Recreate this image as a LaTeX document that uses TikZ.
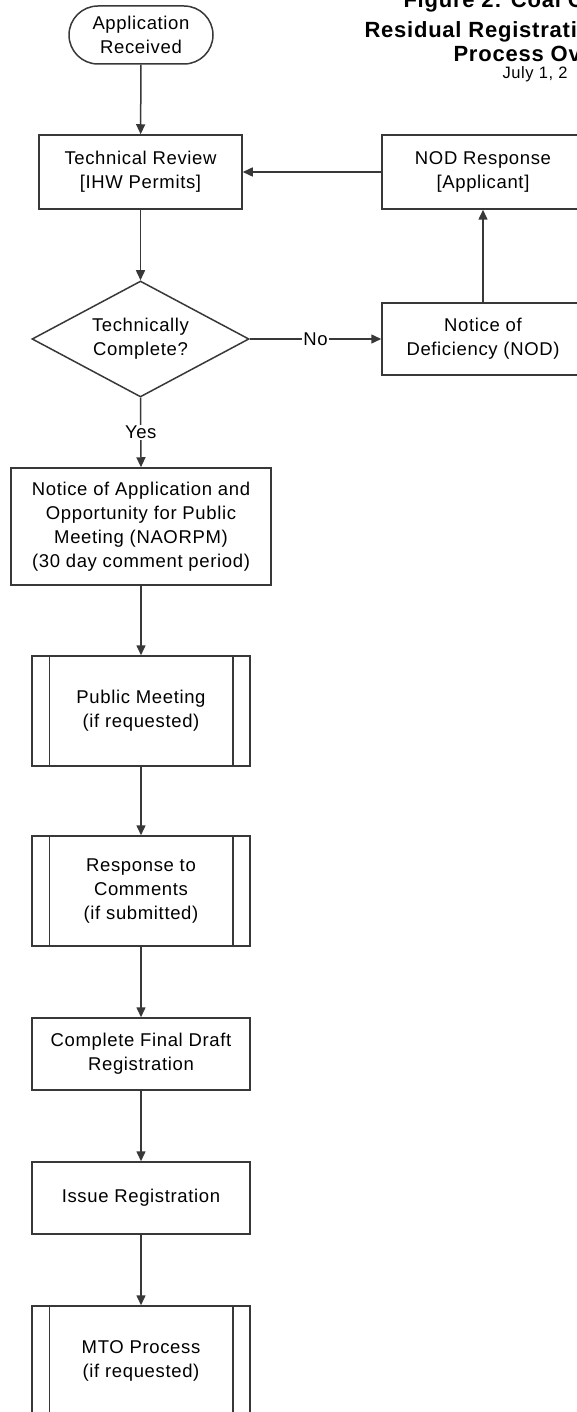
\documentclass[tikz,border=0pt]{standalone}
\usepackage{fontspec}
\setmainfont{Liberation Sans}[LetterSpace=3.5]
\usetikzlibrary{shapes.geometric,arrows.meta}
\begin{document}
\begin{tikzpicture}[x=1pt,y=-1pt,
  every node/.style={font=\fontsize{18.5}{24}\selectfont, align=center, text=black},
  box/.style={draw=black!78, line width=1.5pt, fill=white, inner sep=0pt},
  term/.style={box, rounded corners=29pt, minimum width=144pt, minimum height=58pt},
  dec/.style={box, diamond, shape aspect=1.87, minimum width=217pt, minimum height=116pt},
  subproc/.style={box, minimum width=218pt, minimum height=110pt},
  edge/.style={draw=black!78, line width=1.5pt},
  arr/.style={edge, -{Triangle[length=10pt,width=9pt]}},
  lbl/.style={fill=white, inner sep=1pt},
  ttl/.style={anchor=base west, font=\bfseries\fontsize{22}{26}\selectfont}]
\useasboundingbox (0,0) rectangle (576,1412);

% title fragments
\node[ttl] (t1) at (400,8) {Figure 2: Coal C};
\node[ttl] (t2) at (361,38) {Residual Registrati};
\node[ttl] (t3) at (450,62) {Process Ov};
\node[anchor=base west, font=\fontsize{16.5}{19}\selectfont] (t4) at (499,79) {July 1, 2};

% nodes
\node[term] (app) at (141,35) {Application\\Received};
\node[box, minimum width=203pt, minimum height=74pt] (tr) at (140.5,172) {Technical Review\\{}[IHW Permits]};
\node[box, minimum width=202pt, minimum height=74pt] (nodr) at (483,172) {NOD Response\\{}[Applicant]};
\node[dec] (dia) at (140.5,339) {Technically\\Complete?};
\node[box, minimum width=202pt, minimum height=72pt] (nod) at (483,339) {Notice of\\Deficiency (NOD)};
\node[box, minimum width=260pt, minimum height=117pt] (nao) at (141,526.5) {Notice of Application and\\Opportunity for Public\\Meeting (NAORPM)\\(30 day comment period)};
\node[subproc] (pm) at (141,711) {Public Meeting\\(if requested)};
\node[subproc] (rc) at (141,891) {Response to\\Comments\\(if submitted)};
\node[box, minimum width=218pt, minimum height=72pt] (cfd) at (141,1054) {Complete Final Draft\\Registration};
\node[box, minimum width=218pt, minimum height=72pt] (ir) at (141,1198) {Issue Registration};
\node[subproc] (mto) at (141,1361) {MTO Process\\(if requested)};

% subprocess side bars
\foreach \n in {pm,rc,mto}{
  \draw[edge] ([xshift=18pt]\n.north west) -- ([xshift=18pt]\n.south west);
  \draw[edge] ([xshift=-18pt]\n.north east) -- ([xshift=-18pt]\n.south east);
}

% connectors
\draw[arr] (app) -- (tr);
\draw[arr] (nodr) -- (tr);
\draw[arr] (tr) -- (dia);
\draw[arr] (dia.east) -- node[lbl] {No} (nod.west);
\draw[arr] (nod) -- (nodr);
\draw[arr] (dia.south) -- node[lbl] {Yes} (nao.north);
\draw[arr] (nao) -- (pm);
\draw[arr] (pm) -- (rc);
\draw[arr] (rc) -- (cfd);
\draw[arr] (cfd) -- (ir);
\draw[arr] (ir) -- (mto);
\end{tikzpicture}
\end{document}
